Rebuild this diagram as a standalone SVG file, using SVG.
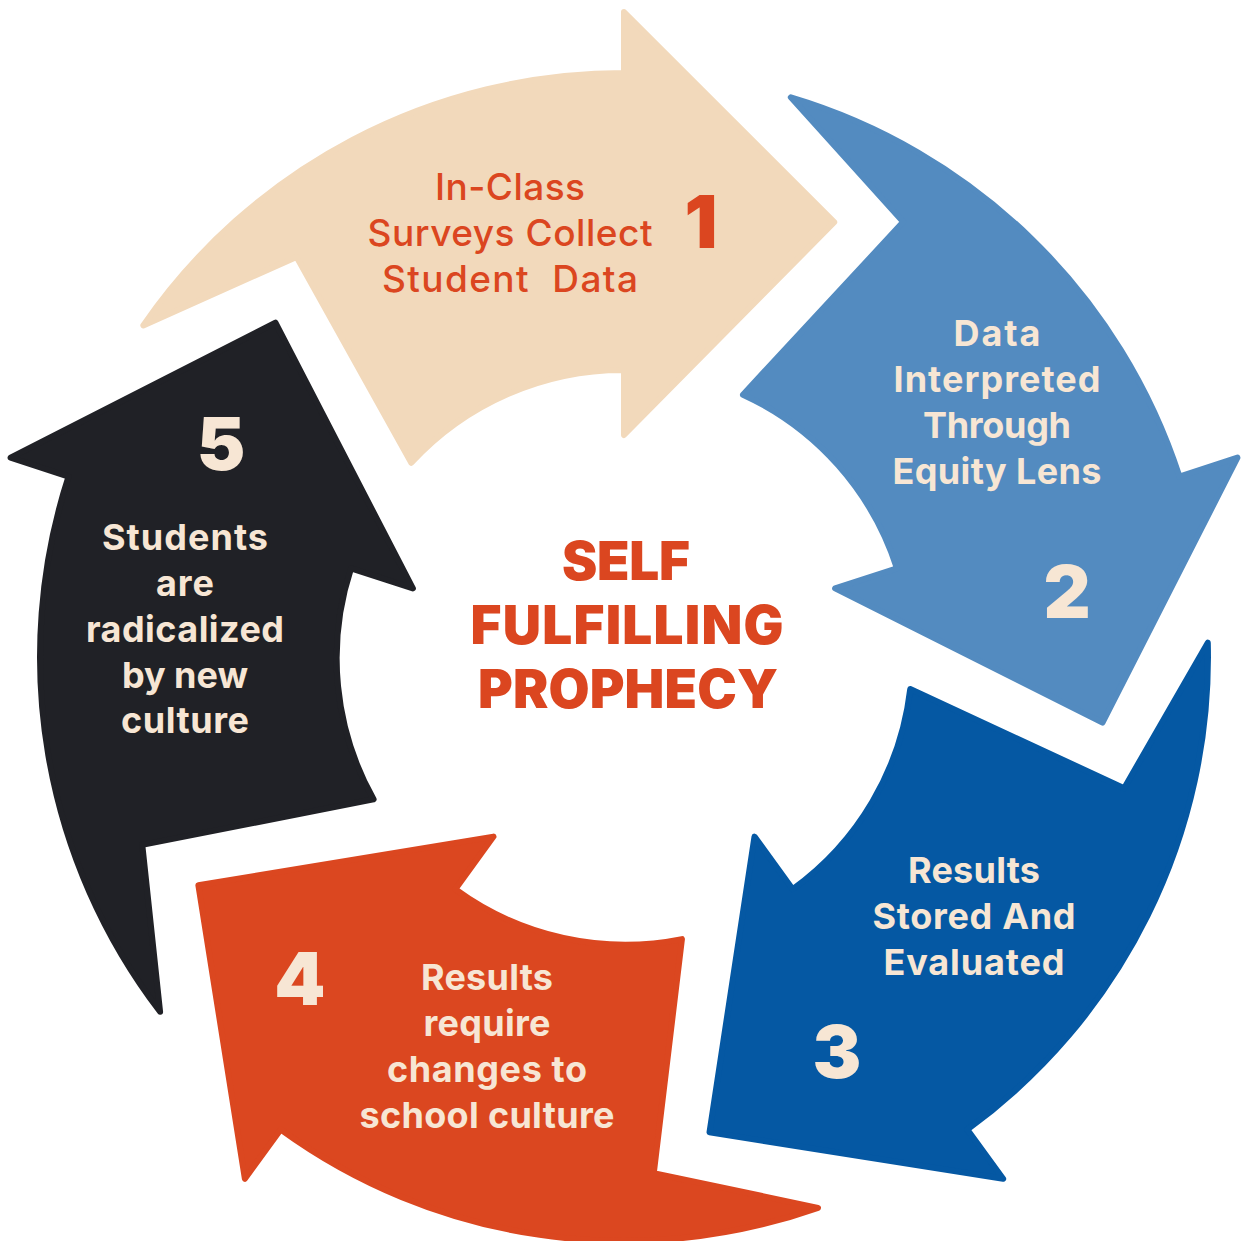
<svg xmlns="http://www.w3.org/2000/svg" width="1244" height="1241" viewBox="0 0 1244 1241">
<style>
.arr{stroke-width:6;stroke-linejoin:round}
.lbl{font-family:Inter,"Noto Sans","Liberation Sans",sans-serif;font-weight:700;font-size:36px;fill:#F7E6D4;text-anchor:middle}
.lbl1{font-family:Inter,"Noto Sans","Liberation Sans",sans-serif;font-weight:500;font-size:37px;fill:#DB4620;text-anchor:middle}
.num{font-family:Inter,"Noto Sans","Liberation Sans",sans-serif;font-weight:900;font-size:73px;fill:#F7E6D4;text-anchor:middle}
.title{font-family:Inter,"Noto Sans","Liberation Sans",sans-serif;font-weight:900;font-size:53px;fill:#DB4620;text-anchor:middle}
</style>
<defs>
<path id="arrow" d="M 143.3 325.4 A 584 584 0 0 1 624 73 L 624 12 L 834.2 222.2 L 624 435 L 624 370 A 288 288 0 0 0 411.3 462.8 L 296.5 256.9 Z"/>
</defs>
<rect width="1244" height="1241" fill="#FFFFFF"/>
<g id="connectors"/>
<g id="step1">
<use href="#arrow" class="arr" fill="#F2D9BB" stroke="#F2D9BB"/>
<text class="lbl1" x="510" y="200" textLength="150">In-Class</text>
<text class="lbl1" x="510" y="246" textLength="285">Surveys Collect</text>
<text class="lbl1" x="510" y="292" textLength="256" xml:space="preserve">Student  Data</text>
<text class="num" x="701" y="248" style="fill:#DB4620">1</text>
</g>
<g id="step2">
<use href="#arrow" class="arr" fill="#538BC0" stroke="#538BC0" transform="rotate(72 624 657)"/>
<text class="lbl" x="997" y="346" textLength="87">Data</text>
<text class="lbl" x="997" y="392" textLength="207">Interpreted</text>
<text class="lbl" x="997" y="438" textLength="148">Through</text>
<text class="lbl" x="997" y="484" textLength="209">Equity Lens</text>
<text class="num" x="1067" y="618">2</text>
</g>
<g id="step3">
<use href="#arrow" class="arr" fill="#0558A3" stroke="#0558A3" transform="rotate(144 624 657)"/>
<text class="lbl" x="974" y="883" textLength="132">Results</text>
<text class="lbl" x="974" y="929" textLength="203">Stored And</text>
<text class="lbl" x="974" y="975" textLength="181">Evaluated</text>
<text class="num" x="837" y="1078">3</text>
</g>
<g id="step4">
<use href="#arrow" class="arr" fill="#DB4720" stroke="#DB4720" transform="rotate(216 624 657)"/>
<text class="lbl" x="487" y="990" textLength="132">Results</text>
<text class="lbl" x="487" y="1036" textLength="127">require</text>
<text class="lbl" x="487" y="1082" textLength="200">changes to</text>
<text class="lbl" x="487" y="1128" textLength="255">school culture</text>
<text class="num" x="300" y="1005">4</text>
</g>
<g id="step5">
<use href="#arrow" class="arr" fill="#202126" stroke="#202126" transform="rotate(288 624 657)"/>
<text class="lbl" x="185" y="550" textLength="166">Students</text>
<text class="lbl" x="185" y="596" textLength="58">are</text>
<text class="lbl" x="185" y="642" textLength="198">radicalized</text>
<text class="lbl" x="185" y="688" textLength="126">by new</text>
<text class="lbl" x="185" y="733" textLength="128">culture</text>
<text class="num" x="221" y="470">5</text>
</g>
<g id="title">
<text class="title" x="626" y="580" textLength="128">SELF</text>
<text class="title" x="627" y="644" textLength="313">FULFILLING</text>
<text class="title" x="628" y="708" textLength="300">PROPHECY</text>
</g>
</svg>
